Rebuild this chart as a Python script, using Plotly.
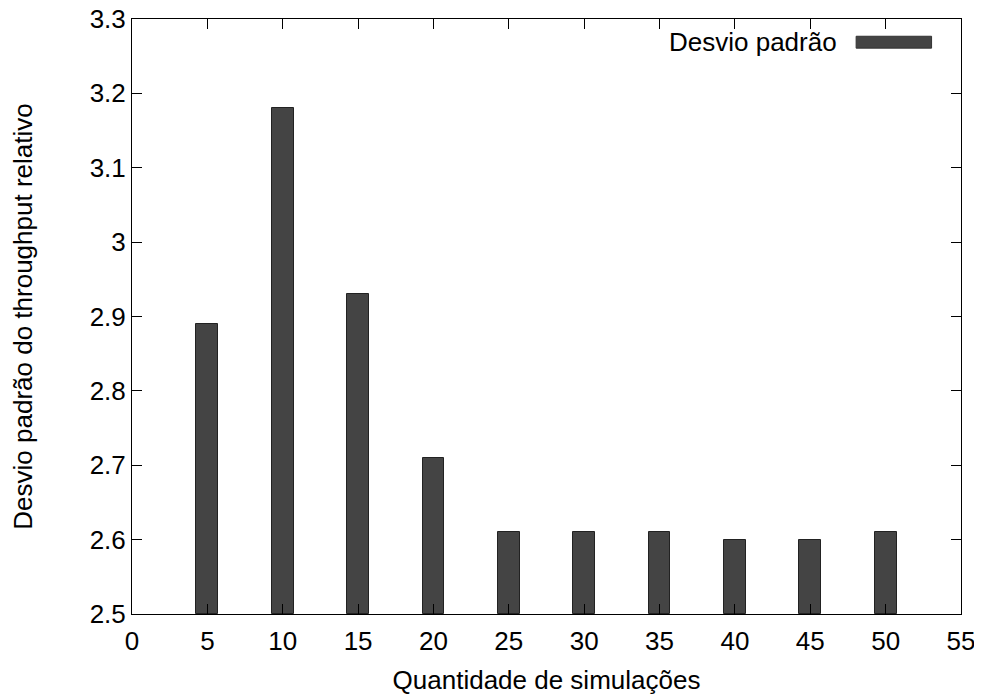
import plotly.graph_objects as go

simulacoes = [5, 10, 15, 20, 25, 30, 35, 40, 45, 50]
desvio = [2.89, 3.18, 2.93, 2.71, 2.61, 2.61, 2.61, 2.60, 2.60, 2.61]
serie_nome = "Desvio padrão"

x_ticks = list(range(0, 56, 5))
y_ticks = [2.5, 2.6, 2.7, 2.8, 2.9, 3.0, 3.1, 3.2, 3.3]
y_labels = ["2.5", "2.6", "2.7", "2.8", "2.9", "3", "3.1", "3.2", "3.3"]

FONT = "Liberation Sans, Arial, sans-serif"
FS = 26
BAR = "#444444"

fig = go.Figure()
fig.add_trace(go.Bar(
    x=simulacoes, y=[v - 2.5 for v in desvio], base=2.5,
    width=1.45, name=serie_nome,
    marker=dict(color=BAR, line=dict(color="#222222", width=1)),
    showlegend=False,
))

axis_common = dict(
    showline=True, linecolor="black", linewidth=1, mirror="allticks",
    ticks="inside", ticklen=10, tickwidth=1, tickcolor="black",
    showgrid=False, zeroline=False, ticklabeloverflow="allow",
    automargin=False,
    tickfont=dict(family=FONT, size=FS, color="black"),
)

fig.update_xaxes(range=[0, 55], tickvals=x_ticks, ticktext=[str(t) for t in x_ticks],
                 ticklabelstandoff=4,
                 title=dict(text="Quantidade de simulações", font=dict(family=FONT, size=FS, color="black"), standoff=15),
                 **axis_common)
fig.update_yaxes(range=[2.5, 3.3], tickvals=y_ticks, ticktext=y_labels,
                 title=dict(text="Desvio padrão do throughput relativo", font=dict(family=FONT, size=FS, color="black"), standoff=50),
                 **axis_common)

# gnuplot-style legend key (text on left, wide sample on right)
fig.add_annotation(xref="paper", yref="paper", x=0.853, y=0.961, xanchor="right", yanchor="middle",
                   text=serie_nome, showarrow=False, font=dict(family=FONT, size=FS, color="black"))
fig.add_shape(type="rect", xref="paper", yref="paper", x0=0.8735, x1=0.9645, y0=0.951, y1=0.971,
              fillcolor=BAR, line=dict(color="#333333", width=1))

fig.update_layout(
    width=982, height=696,
    margin=dict(l=124, r=29, t=11, b=90),
    plot_bgcolor="white", paper_bgcolor="white",
    bargap=0,
    font=dict(family=FONT, size=FS, color="black"),
)

fig.write_html("out.html")
